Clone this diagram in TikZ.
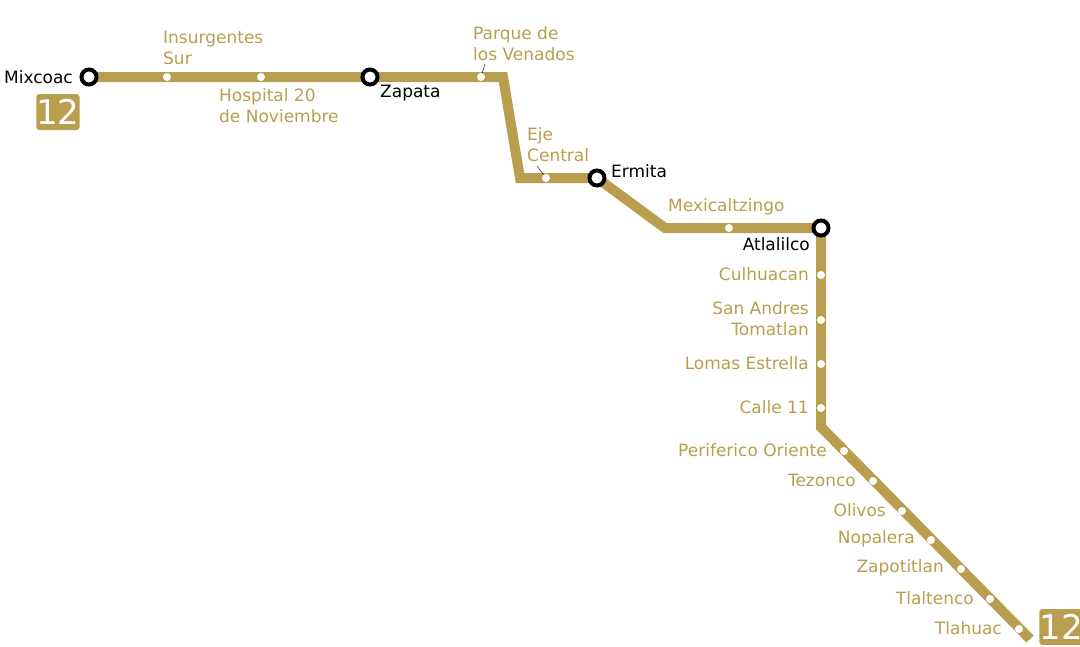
\documentclass[tikz,border=0pt]{standalone}
\usepackage{fontspec}
\setmainfont{DejaVu Sans}
\definecolor{lineGold}{HTML}{B99E4F}
\begin{document}
\begin{tikzpicture}[x=1pt,y=-1pt]
  \useasboundingbox (0,0) rectangle (1080,646);
  \tikzset{StopStyle/.style = {circle,
                               fill         = white,
                               inner sep    = 0pt,
                               minimum size = 8pt}}
  \tikzset{HubStyle/.style  = {circle,
                               draw,
                               fill         = white,
                               line width   = 4pt,
                               inner sep    = 0pt,
                               minimum size = 15pt}}
  \tikzset{LineStyle/.style = {lineGold, line width = 10pt, line join = miter}}
  \tikzset{GoldText/.style  = {text = lineGold, font = \fontsize{17}{21}\selectfont, inner sep = 1pt, align = left}}
  \tikzset{HubText/.style   = {text = black, font = \fontsize{17}{21}\selectfont, inner sep = 1pt}}
  \tikzset{BadgeStyle/.style = {fill = lineGold, rounded corners = 3pt, text = white,
                               font = \fontsize{34}{34}\selectfont,
                               minimum width = 38pt, minimum height = 36pt, inner sep = 0pt}}

     % corners of the line
     \coordinate (B_1) at (503,77);
     \coordinate (B_2) at (520,178);
     \coordinate (B_3) at (665,228);
     \coordinate (B_4) at (821,427);
     \coordinate (B_5) at (1030,639);

     % the line itself
     \draw[LineStyle] (89,77) coordinate (S_mix) -- (B_1) -- (B_2) -- (597,178)
        -- (B_3) -- (821,228) -- (B_4) -- (B_5);

     % plain stations
     \node[StopStyle] (S_ins) at (167,77) {};
     \node[StopStyle] (S_hos) at (261,77) {};
     \node[StopStyle] (S_par) at (481,77) {};
     \node[StopStyle] (S_eje) at (546,178) {};
     \node[StopStyle] (S_mex) at (729,228) {};
     \node[StopStyle] (S_cul) at (821,275) {};
     \node[StopStyle] (S_san) at (821,320) {};
     \node[StopStyle] (S_lom) at (821,364) {};
     \node[StopStyle] (S_cal) at (821,408) {};
     \node[StopStyle] (S_per) at (844,451) {};
     \node[StopStyle] (S_tez) at (873,481) {};
     \node[StopStyle] (S_oli) at (902,511) {};
     \node[StopStyle] (S_nop) at (931,540) {};
     \node[StopStyle] (S_zap) at (961,569) {};
     \node[StopStyle] (S_tla) at (990,599) {};
     \node[StopStyle] (S_thc) at (1019,629) {};

     % interchanges
     \node[HubStyle] (H_mix) at (89,77) {};
     \node[HubStyle] (H_zap) at (370,77) {};
     \node[HubStyle] (H_erm) at (597,178) {};
     \node[HubStyle] (H_atl) at (821,228) {};

     % labels
     \node[HubText,anchor=east] (L_mix) at (74,77) {Mixcoac};
     \node[HubText,anchor=north west] (L_zap) at (379,84) {Zapata};
     \node[HubText,anchor=west] (L_erm) at (610,171) {Ermita};
     \node[HubText,anchor=north east] (L_atl) at (811,236) {Atlalilco};
     \node[GoldText,anchor=south west] (L_ins) at (162,66) {Insurgentes\\Sur};
     \node[GoldText,anchor=north west] (L_hos) at (218,87) {Hospital 20\\de Noviembre};
     \node[GoldText,anchor=south west] (L_par) at (472,62) {Parque de\\los Venados};
     \node[GoldText,anchor=south west] (L_eje) at (526,163) {Eje\\Central};
     \node[GoldText,anchor=south west] (L_mex) at (667,216) {Mexicaltzingo};
     \node[GoldText,anchor=east] (L_cul) at (810,274) {Culhuacan};
     \node[GoldText,anchor=east,align=right] (L_san) at (810,319) {San Andres\\Tomatlan};
     \node[GoldText,anchor=east] (L_lom) at (810,363) {Lomas Estrella};
     \node[GoldText,anchor=east] (L_cal) at (810,407) {Calle 11};
     \node[GoldText,anchor=east] (L_per) at (828,450) {Periferico Oriente};
     \node[GoldText,anchor=east] (L_tez) at (857,480) {Tezonco};
     \node[GoldText,anchor=east] (L_oli) at (887,510) {Olivos};
     \node[GoldText,anchor=east] (L_nop) at (916,539) {Nopalera};
     \node[GoldText,anchor=east] (L_zpt) at (945,568) {Zapotitlan};
     \node[GoldText,anchor=east] (L_tlt) at (975,598) {Tlaltenco};
     \node[GoldText,anchor=east] (L_thc) at (1003,628) {Tlahuac};

     % leaders
     \draw[thin] (S_par) -- (485,64);
     \draw[thin] (S_eje) -- (537,166);

     % line badges
     \node[BadgeStyle] (N_1) at (58,112) {12};
     \node[BadgeStyle] (N_2) at (1061,627) {12};
\end{tikzpicture}
\end{document}
